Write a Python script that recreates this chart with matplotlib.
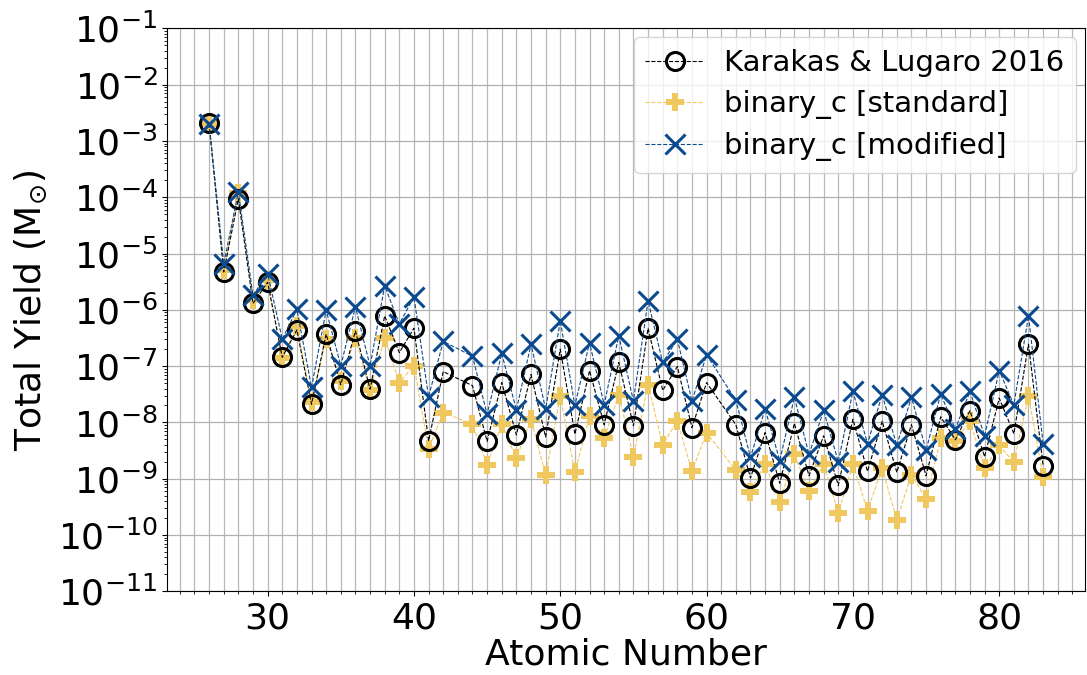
import numpy as np
from matplotlib import pyplot as plt
from matplotlib.ticker import MultipleLocator, LogLocator, NullFormatter

# data
z = [26, 27, 28, 29, 30, 31, 32, 33, 34, 35, 36, 37, 38, 39, 40, 41, 42, 44,
     45, 46, 47, 48, 49, 50, 51, 52, 53, 54, 55, 56, 57, 58, 59, 60, 62, 63,
     64, 65, 66, 67, 68, 69, 70, 71, 72, 73, 74, 75, 76, 77, 78, 79, 80, 81,
     82, 83]

karakas = [2.05e-3, 4.7e-6, 9.4e-5, 1.3e-6, 3.1e-6, 1.43e-7, 4.4e-7, 2.1e-8,
           3.7e-7, 4.7e-8, 4.2e-7, 3.9e-8, 7.8e-7, 1.74e-7, 4.7e-7, 4.7e-9,
           8.0e-8, 4.5e-8, 4.6e-9, 5.1e-8, 6.0e-9, 7.1e-8, 5.5e-9, 2.0e-7,
           6.2e-9, 8.3e-8, 9.1e-9, 1.16e-7, 8.7e-9, 4.7e-7, 3.7e-8, 9.8e-8,
           8.1e-9, 5.1e-8, 9.1e-9, 1.03e-9, 6.6e-9, 8.3e-10, 9.6e-9, 1.13e-9,
           5.8e-9, 7.6e-10, 1.14e-8, 1.35e-9, 1.05e-8, 1.3e-9, 9.1e-9, 1.13e-9,
           1.26e-8, 4.9e-9, 1.62e-8, 2.45e-9, 2.7e-8, 6.3e-9, 2.45e-7, 1.68e-9]

standard = [2.0e-3, 5.0e-6, 1.2e-4, 1.5e-6, 3.4e-6, 1.4e-7, 5.2e-7, 2.3e-8,
            3.0e-7, 5.5e-8, 3.2e-7, 3.7e-8, 3.2e-7, 5.1e-8, 1.02e-7, 3.4e-9,
            1.5e-8, 9.3e-9, 1.78e-9, 9.3e-9, 2.3e-9, 1.14e-8, 1.16e-9, 2.97e-8,
            1.29e-9, 1.31e-8, 5.2e-9, 3.1e-8, 2.46e-9, 4.7e-8, 4.0e-9, 1.07e-8,
            1.35e-9, 6.6e-9, 1.4e-9, 5.8e-10, 1.86e-9, 3.8e-10, 2.7e-9, 6.0e-10,
            1.82e-9, 2.5e-10, 1.82e-9, 2.7e-10, 1.55e-9, 1.84e-10, 1.18e-9,
            4.4e-10, 5.2e-9, 4.7e-9, 1.04e-8, 1.55e-9, 3.9e-9, 1.95e-9, 2.97e-8,
            1.07e-9]

modified = [2.0e-3, 6.6e-6, 1.24e-4, 1.8e-6, 4.4e-6, 3.0e-7, 1.02e-6, 4.2e-8,
            9.8e-7, 1.02e-7, 1.13e-6, 1.0e-7, 2.67e-6, 5.6e-7, 1.7e-6, 2.86e-8,
            2.75e-7, 1.5e-7, 1.4e-8, 1.68e-7, 1.66e-8, 2.45e-7, 1.73e-8, 6.4e-7,
            2.0e-8, 2.6e-7, 2.06e-8, 3.46e-7, 2.4e-8, 1.44e-6, 1.16e-7, 3.0e-7,
            2.4e-8, 1.58e-7, 2.5e-8, 2.4e-9, 1.73e-8, 2.1e-9, 2.8e-8, 2.7e-9,
            1.63e-8, 2.0e-9, 3.56e-8, 4.2e-9, 3.1e-8, 3.9e-9, 2.8e-8, 3.2e-9,
            3.2e-8, 7.6e-9, 3.56e-8, 5.8e-9, 8.3e-8, 2.06e-8, 7.8e-7, 4.2e-9]

# visualization
fig = plt.figure(figsize=(10.87, 6.75), dpi=100)
ax = fig.add_subplot(111)
fig.subplots_adjust(left=0.154, right=0.998, top=0.958, bottom=0.124)

ax.plot(z, karakas, color='k', linestyle='--', linewidth=0.8, marker='o',
        markersize=13, markerfacecolor='none', markeredgewidth=2.2,
        label='Karakas & Lugaro 2016', zorder=3)
ax.plot(z, standard, color='#f0c860', linestyle='--', linewidth=0.8, marker='P',
        markersize=13, markeredgewidth=0, label='binary_c [standard]', zorder=2)
ax.plot(z, modified, color='#0b4a8f', linestyle='--', linewidth=0.8, marker='x',
        markersize=14, markeredgewidth=2.2, label='binary_c [modified]', zorder=4)

ax.set_yscale('log')
ax.set_ylim(1e-11, 1e-1)
ax.yaxis.set_major_locator(LogLocator(base=10, numticks=20))
ax.yaxis.set_minor_locator(LogLocator(base=10, subs=np.arange(2, 10), numticks=20))
ax.yaxis.set_minor_formatter(NullFormatter())
ax.xaxis.set_minor_locator(MultipleLocator(1))
ax.grid(which='major', axis='y', color='#b0b0b0', linewidth=0.9)
ax.grid(which='both', axis='x', color='#b8b8b8', linewidth=0.9)
ax.set_axisbelow(True)

ax.tick_params(labelsize=26)
ax.set_xlabel('Atomic Number', fontsize=26, labelpad=2)
ax.set_ylabel(r'Total Yield (M$_{\odot}$)', fontsize=26, labelpad=6)
ax.legend(loc='upper right', fontsize=21, handlelength=2.0, handletextpad=0.7,
          borderaxespad=0.3, labelspacing=0.45)

plt.savefig('out.png', dpi=100)
